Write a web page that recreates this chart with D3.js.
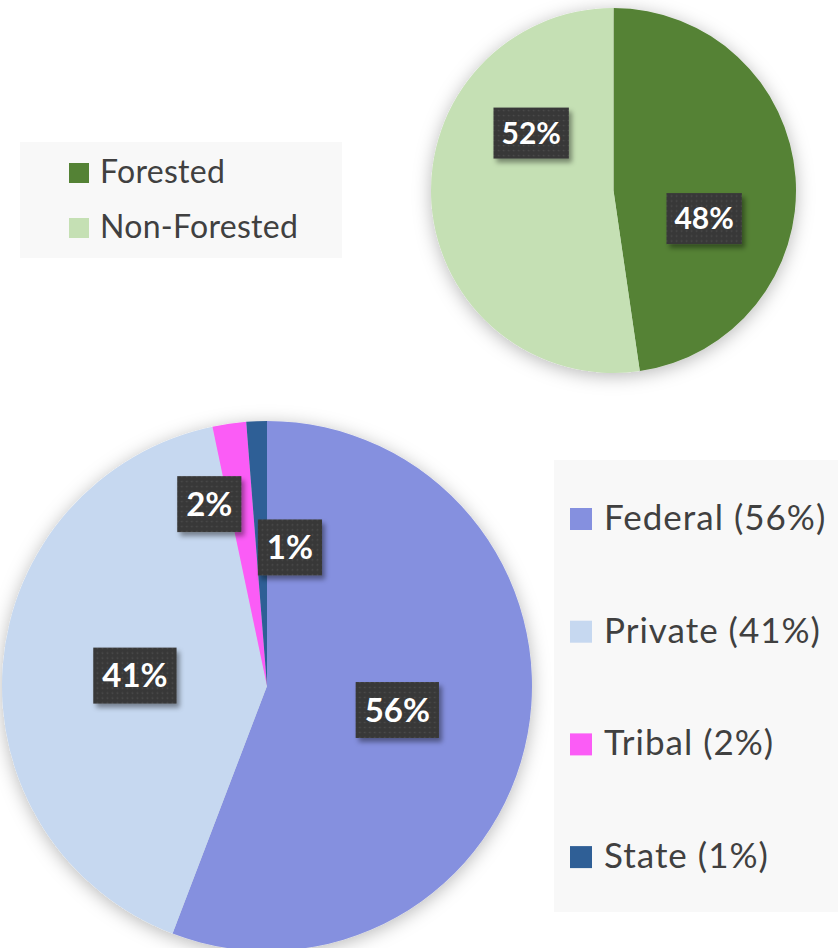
<!DOCTYPE html>
<html>
<head>
<meta charset="utf-8">
<script src="https://cdn.jsdelivr.net/npm/d3@7"></script>
<style>
  html, body { margin: 0; padding: 0; background: #ffffff; }
  svg { display: block; }
</style>
</head>
<body>
<svg id="chart" width="838" height="948"></svg>
<script>
// ---------------- DATA ----------------
const forestCategories = ["Forested", "Non-Forested"];
const forestValues = [47.7, 52.3];
const forestColors = ["#548235", "#c5e0b4"];

const ownerCategories = ["Federal", "Private", "Tribal", "State"];
const ownerValues = [55.8, 40.9, 2.05, 1.25];
const ownerColors = ["#8590df", "#c6d8f0", "#fb5cf6", "#2f5f96"];
const ownerLegendLabels = ["Federal (56%)", "Private (41%)", "Tribal (2%)", "State (1%)"];

// ---------------- LAYOUT ----------------
const svg = d3.select("#chart");
const defs = svg.append("defs");

const pieShadow = defs.append("filter").attr("id", "pieShadow")
  .attr("x", "-20%").attr("y", "-20%").attr("width", "140%").attr("height", "140%");
pieShadow.append("feDropShadow").attr("dx", 0).attr("dy", 3)
  .attr("stdDeviation", 9).attr("flood-color", "#000").attr("flood-opacity", 0.28);

const boxShadow = defs.append("filter").attr("id", "boxShadow")
  .attr("x", "-30%").attr("y", "-30%").attr("width", "160%").attr("height", "160%");
boxShadow.append("feDropShadow").attr("dx", 3).attr("dy", 4)
  .attr("stdDeviation", 2.5).attr("flood-color", "#000").attr("flood-opacity", 0.4);

const dots = defs.append("pattern").attr("id", "dots")
  .attr("width", 5).attr("height", 5).attr("patternUnits", "userSpaceOnUse");
dots.append("rect").attr("width", 5).attr("height", 5).attr("fill", "#393939");
dots.append("circle").attr("cx", 2.5).attr("cy", 2.5).attr("r", 0.8).attr("fill", "#4e4e4e");

const FONT = "Lato, 'Open Sans', 'DejaVu Sans', sans-serif";

function drawPie(cfg) {
  const pie = d3.pie().sort(null).startAngle(0).endAngle(2 * Math.PI);
  const arcs = pie(cfg.values);
  const arc = d3.arc().innerRadius(0).outerRadius(cfg.r);
  const g = svg.append("g").attr("transform", `translate(${cfg.cx},${cfg.cy})`);

  g.append("g").attr("filter", "url(#pieShadow)")
    .selectAll("path").data(arcs).join("path")
    .attr("d", arc)
    .attr("fill", (d, i) => cfg.colors[i]);

  const lab = g.selectAll("g.lab").data(arcs).join("g").attr("class", "lab")
    .attr("transform", (d, i) => {
      const p = cfg.place[i];
      const a = (p.a == null ? (d.startAngle + d.endAngle) / 2 : p.a * Math.PI / 180);
      const rr = p.k * cfg.r;
      return `translate(${Math.sin(a) * rr},${-Math.cos(a) * rr})`;
    });

  lab.each(function (d) {
    const sel = d3.select(this);
    const txt = Math.round(d.value) + "%";
    const t = sel.append("text")
      .attr("text-anchor", "middle")
      .attr("dy", "0.36em")
      .attr("fill", "#ffffff")
      .attr("font-family", FONT)
      .attr("font-weight", "bold")
      .attr("font-size", cfg.fontSize)
      .text(txt);
    const w = t.node().getComputedTextLength() + cfg.padX * 2;
    sel.insert("rect", "text")
      .attr("x", -w / 2).attr("y", -cfg.boxH / 2)
      .attr("width", w).attr("height", cfg.boxH)
      .attr("fill", "url(#dots)")
      .attr("filter", "url(#boxShadow)");
  });
}

drawPie({
  values: forestValues, colors: forestColors,
  cx: 613.5, cy: 190.5, r: 182.5,
  fontSize: 30, padX: 8, boxH: 51,
  place: [{ a: 107.2, k: 0.52 }, { a: 304.9, k: 0.55 }]
});

drawPie({
  values: ownerValues, colors: ownerColors,
  cx: 267, cy: 686, r: 265,
  fontSize: 33, padX: 9, boxH: 56,
  place: [{ a: null, k: 0.50 }, { a: null, k: 0.50 }, { a: 342.4, k: 0.72 }, { a: 9.4, k: 0.53 }]
});

// ---------------- LEGENDS ----------------
function drawLegend(cfg) {
  const g = svg.append("g");
  g.append("rect")
    .attr("x", cfg.x).attr("y", cfg.y).attr("width", cfg.w).attr("height", cfg.h)
    .attr("fill", "#f8f8f8");
  const items = g.selectAll("g.item").data(cfg.labels).join("g").attr("class", "item")
    .attr("transform", (d, i) => `translate(${cfg.sx},${cfg.firstBase + i * cfg.step})`);
  items.append("rect")
    .attr("x", 0).attr("y", -cfg.sw + cfg.swOff)
    .attr("width", cfg.sw).attr("height", cfg.sw)
    .attr("fill", (d, i) => cfg.colors[i]);
  items.append("text")
    .attr("x", cfg.tx)
    .attr("fill", "#404040")
    .attr("font-family", FONT)
    .attr("font-size", cfg.fontSize)
    .attr("letter-spacing", cfg.ls)
    .text(d => d);
}

drawLegend({
  x: 20, y: 142, w: 322, h: 116,
  sx: 69, firstBase: 183, step: 55, sw: 20, swOff: 0, tx: 31,
  labels: forestCategories, colors: forestColors, fontSize: 32, ls: 0.3
});

drawLegend({
  x: 554, y: 460, w: 284, h: 452,
  sx: 570, firstBase: 530, step: 112.7, sw: 22, swOff: 0, tx: 34,
  labels: ownerLegendLabels, colors: ownerColors, fontSize: 35, ls: 1
});
</script>
</body>
</html>
